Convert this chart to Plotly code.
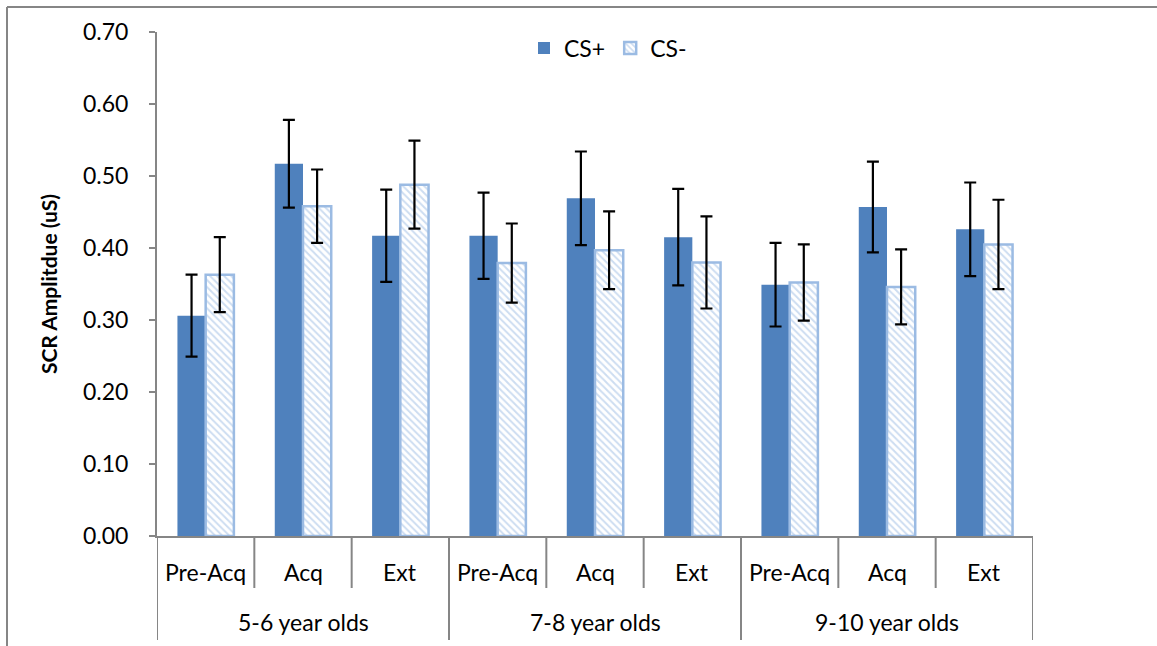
import plotly.graph_objects as go

groups = ["5-6 year olds", "7-8 year olds", "9-10 year olds"]
phases = ["Pre-Acq", "Acq", "Ext"]
cs_plus = [0.306, 0.517, 0.417, 0.417, 0.469, 0.415, 0.349, 0.457, 0.426]
cs_plus_err = [0.057, 0.061, 0.064, 0.060, 0.065, 0.067, 0.058, 0.063, 0.065]
cs_minus = [0.363, 0.458, 0.488, 0.379, 0.397, 0.380, 0.352, 0.346, 0.405]
cs_minus_err = [0.052, 0.051, 0.061, 0.055, 0.054, 0.064, 0.053, 0.052, 0.062]
y_ticks = [0.0, 0.1, 0.2, 0.3, 0.4, 0.5, 0.6, 0.7]

FONT = "Lato"
FS = 23
W, H = 1157, 646
ML, MR, MT, MB = 157, 124, 32, 110
PW, PH = W - ML - MR, H - MT - MB

def px_to_paper_y(py):
    return (H - MB - py) / PH

def px_to_paper_x(px):
    return (px - ML) / PW

n = len(groups) * len(phases)
xs = list(range(n))
cat_labels = [p for g in groups for p in phases]

fig = go.Figure()
fig.add_trace(go.Bar(
    x=xs, y=cs_plus, name="CS+",
    marker=dict(color="#4F81BD", line=dict(width=0)),
    error_y=dict(type="data", array=cs_plus_err, color="black", thickness=2.2, width=6),
))
fig.add_trace(go.Bar(
    x=xs, y=cs_minus, name="CS-",
    marker=dict(color="white", line=dict(color="#9BBBE3", width=2.5),
                pattern=dict(shape="\\", fgcolor="#9BBBE3", bgcolor="white",
                             size=5, solidity=0.4, fillmode="overlay")),
    error_y=dict(type="data", array=cs_minus_err, color="black", thickness=2.2, width=6),
))

line_col = "#868686"
shapes = []
for b in range(n + 1):
    xb = b - 0.5
    long = (b % len(phases) == 0)
    shapes.append(dict(type="line", xref="x", yref="paper", x0=xb, x1=xb,
                       y0=0, y1=px_to_paper_y(640 if long else 588),
                       line=dict(color=line_col, width=2)))
shapes.append(dict(type="line", xref="paper", yref="paper",
                   x0=px_to_paper_x(7), x1=px_to_paper_x(W + 10),
                   y0=px_to_paper_y(7), y1=px_to_paper_y(7),
                   line=dict(color=line_col, width=2)))
shapes.append(dict(type="line", xref="paper", yref="paper",
                   x0=px_to_paper_x(7), x1=px_to_paper_x(7),
                   y0=px_to_paper_y(7), y1=px_to_paper_y(H + 10),
                   line=dict(color=line_col, width=2)))

annotations = []
for i, lab in enumerate(cat_labels):
    annotations.append(dict(x=i, y=px_to_paper_y(572), xref="x", yref="paper",
                            text=lab, showarrow=False, yanchor="middle",
                            font=dict(family=FONT, size=FS, color="black")))
for gi, g in enumerate(groups):
    annotations.append(dict(x=gi * len(phases) + (len(phases) - 1) / 2,
                            y=px_to_paper_y(622), xref="x", yref="paper",
                            text=g, showarrow=False, yanchor="middle",
                            font=dict(family=FONT, size=FS, color="black")))

fig.update_layout(
    width=W, height=H,
    margin=dict(l=ML, r=MR, t=MT, b=MB),
    paper_bgcolor="white", plot_bgcolor="white",
    barmode="group", bargap=0.42, bargroupgap=0.0,
    font=dict(family=FONT, size=FS, color="black"),
    showlegend=True,
    legend=dict(orientation="h", x=px_to_paper_x(608), xanchor="center",
                y=px_to_paper_y(48), yanchor="middle",
                bgcolor="rgba(0,0,0,0)", font=dict(family=FONT, size=FS),
                itemwidth=30, tracegroupgap=0),
    xaxis=dict(range=[-0.5, n - 0.5], showticklabels=False, showgrid=False,
               zeroline=False, showline=True, linecolor=line_col, linewidth=2,
               ticks=""),
    yaxis=dict(range=[0, 0.7], tickvals=y_ticks, tickformat=".2f",
               showgrid=False, zeroline=False, showline=True,
               linecolor=line_col, linewidth=2, ticks="outside", ticklen=6,
               tickcolor=line_col, tickwidth=2, ticklabelstandoff=16,
               tickfont=dict(family=FONT, size=FS, color="black"),
               title=dict(text="<b>SCR Amplitdue (uS)</b>", standoff=20,
                          font=dict(family=FONT, size=21, color="black"))),
    shapes=shapes, annotations=annotations,
)

fig.write_html("out.html")
